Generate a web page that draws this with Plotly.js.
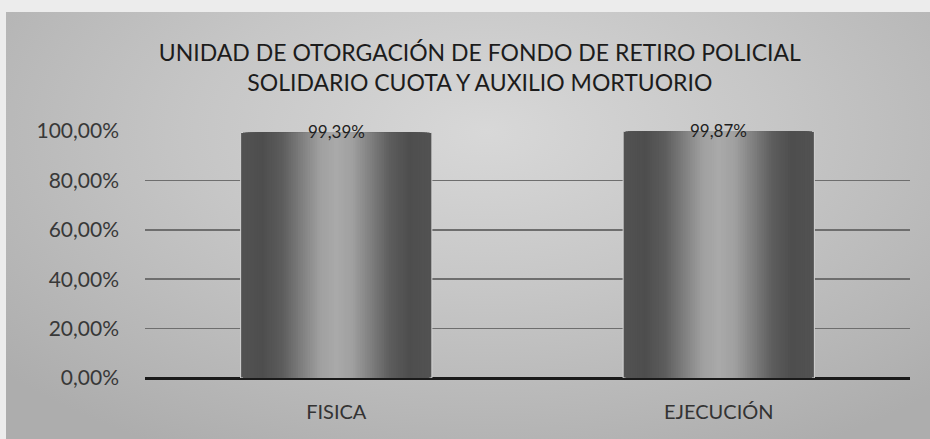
<!DOCTYPE html>
<html>
<head>
<meta charset="utf-8">
<script src="https://cdn.plot.ly/plotly-3.0.1.min.js"></script>
<style>
  html, body { margin:0; padding:0; width:930px; height:439px; background:#ececec; overflow:hidden; }
  #bg { position:absolute; left:6px; top:12px; width:924px; height:427px;
        background: radial-gradient(ellipse 70% 85% at 52% 28%, #d8d8d8 0%, #c6c6c6 45%, #adadad 100%); }
  #chart { position:absolute; left:0; top:0; width:930px; height:439px; }
</style>
</head>
<body>
<div id="bg"></div>
<div id="chart"></div>
<script>
const titleLines = ["UNIDAD DE OTORGACIÓN DE FONDO DE RETIRO POLICIAL", "SOLIDARIO CUOTA Y AUXILIO MORTUORIO"];
const categories = ["FISICA", "EJECUCIÓN"];
const values = [0.9939, 0.9987];
const yTicks = [0, 0.2, 0.4, 0.6, 0.8, 1.0];

// cylinder-like shading stops: distance from bar centre (0 = centre, 1 = edge) -> grey level
const shadeStops = [[0, 170], [0.18, 160], [0.38, 126], [0.58, 92], [0.78, 78], [1, 82]];
const nSteps = 40;
const fullWidth = 0.5;

function greyAt(d) {
  for (let k = 1; k < shadeStops.length; k++) {
    const [d0, g0] = shadeStops[k - 1], [d1, g1] = shadeStops[k];
    if (d <= d1) { const t = (d - d0) / (d1 - d0); const g = Math.round(g0 + t * (g1 - g0)); return `rgb(${g},${g},${g})`; }
  }
  const g = shadeStops[shadeStops.length - 1][1];
  return `rgb(${g},${g},${g})`;
}

const traces = [];
for (let i = 0; i < nSteps; i++) {
  const d = 1 - i / nSteps;
  traces.push({
    type: "bar",
    x: categories,
    y: values,
    width: fullWidth * d,
    marker: { color: greyAt(d), line: { color: i === 0 ? "#d4d4d4" : greyAt(d), width: i === 0 ? 1 : 0 } },
    hoverinfo: "skip",
    showlegend: false
  });
}

const fmt = v => (v * 100).toFixed(2).replace(".", ",") + "%";
const annotations = categories.map((c, i) => ({
  x: c, y: values[i], xref: "x", yref: "y",
  text: fmt(values[i]),
  showarrow: false,
  yanchor: "middle", yshift: 1,
  font: { family: "Lato, 'Open Sans', sans-serif", size: 17, color: "#1e1e1e" }
}));

const layout = {
  width: 930, height: 439,
  paper_bgcolor: "rgba(0,0,0,0)",
  plot_bgcolor: "rgba(0,0,0,0)",
  separators: ",.",
  barmode: "overlay",
  margin: { l: 145, r: 20, t: 131, b: 61 },
  title: {
    text: titleLines.join("<br>"),
    font: { family: "Lato, 'Open Sans', sans-serif", size: 23, color: "#1c1c1c" },
    x: 0.516, xanchor: "center",
    y: 0.86, yanchor: "middle"
  },
  annotations: annotations,
  xaxis: {
    showgrid: false, zeroline: false, showline: false,
    tickfont: { family: "Lato, 'Open Sans', sans-serif", size: 20, color: "#333" },
    ticklabelstandoff: 20
  },
  yaxis: {
    range: [0, 1.0],
    tickvals: yTicks,
    tickformat: ".2%",
    showgrid: true, gridcolor: "#6e6e6e", gridwidth: 1.5,
    zeroline: true, zerolinecolor: "#1a1a1a", zerolinewidth: 3,
    showline: false,
    tickfont: { family: "Lato, 'Open Sans', sans-serif", size: 21, color: "#383838" },
    ticklabelstandoff: 25
  },
  font: { family: "Lato, 'Open Sans', sans-serif" }
};

Plotly.newPlot("chart", traces, layout, { displayModeBar: false, staticPlot: true });
</script>
</body>
</html>
